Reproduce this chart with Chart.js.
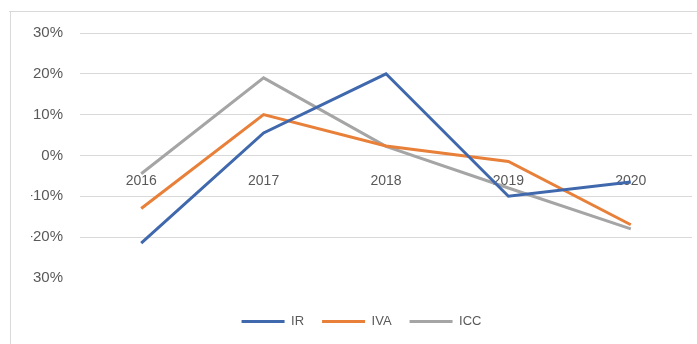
<!DOCTYPE html>
<html>
<head>
<meta charset="utf-8">
<script src="https://cdn.jsdelivr.net/npm/chart.js@4.4.1/dist/chart.umd.min.js"></script>
<style>
  html, body { margin: 0; padding: 0; background: #fff; }
  #wrap { width: 697px; height: 344px; position: relative; }
</style>
</head>
<body>
<div id="wrap"><canvas id="chart"></canvas></div>
<script>
// Años y variación anual de cada impuesto (%)
const years = ['2016', '2017', '2018', '2019', '2020'];
const irValues = [-21.5, 5.5, 20, -10, -6.5];
const ivaValues = [-13, 10, 2.3, -1.5, -17];
const iccValues = [-4.5, 19, 2.2, -8, -18];

// Marcas del eje vertical
const yTickValues = [-30, -20, -10, 0, 10, 20, 30];
const yTickLabels = ['30%', '-20%', '-10%', '0%', '10%', '20%', '30%'];

const GRID = '#d9d9d9';
const TEXT = '#595959';
const FONT = 'Liberation Sans, Arial, sans-serif';

// Marco del gráfico (borde superior e izquierdo)
const framePlugin = {
    id: 'frame',
    beforeDraw(chart) {
        const c = chart.ctx;
        c.save();
        c.strokeStyle = GRID;
        c.lineWidth = 1;
        c.beginPath();
        c.moveTo(9, 11.5);
        c.lineTo(chart.width, 11.5);
        c.moveTo(10.5, 11);
        c.lineTo(10.5, chart.height);
        c.stroke();
        c.restore();
    }
};

const ctx = document.getElementById('chart').getContext('2d');
new Chart(ctx, {
    type: 'line',
    data: {
        labels: years,
        datasets: [
            { label: 'IR', data: irValues, borderColor: '#4068ad', backgroundColor: '#4068ad' },
            { label: 'IVA', data: ivaValues, borderColor: '#e8803a', backgroundColor: '#e8803a' },
            { label: 'ICC', data: iccValues, borderColor: '#a5a5a5', backgroundColor: '#a5a5a5' }
        ]
    },
    options: {
        responsive: true,
        maintainAspectRatio: false,
        animation: false,
        datasets: {
            line: { borderWidth: 3, pointRadius: 0, tension: 0 }
        },
        layout: { padding: { left: 31, right: 5, top: 33, bottom: 6 } },
        plugins: {
            tooltip: { enabled: false },
            legend: {
                position: 'bottom',
                title: { display: true, text: '', font: { size: 11 }, padding: { top: 0, bottom: 6 } },
                labels: {
                    usePointStyle: true,
                    pointStyle: 'line',
                    pointStyleWidth: 43,
                    padding: 18,
                    color: TEXT,
                    font: { family: FONT, size: 13 }
                }
            }
        },
        scales: {
            x: {
                offset: true,
                position: { y: 0 },
                grid: { display: false, drawTicks: false, offset: true },
                border: { display: false },
                ticks: {
                    padding: 17,
                    color: TEXT,
                    font: { family: FONT, size: 14 }
                }
            },
            y: {
                min: -30,
                max: 30,
                afterFit(scale) { scale.width = 49; },
                afterBuildTicks(scale) {
                    scale.ticks = yTickValues.map(v => ({ value: v }));
                },
                grid: {
                    drawTicks: false,
                    color: c => (c.tick && c.tick.value === -30) ? 'rgba(0,0,0,0)' : GRID
                },
                border: { display: false },
                ticks: {
                    padding: 17,
                    color: TEXT,
                    font: { family: FONT, size: 15 },
                    callback: v => yTickLabels[yTickValues.indexOf(v)]
                }
            }
        }
    },
    plugins: [framePlugin]
});
</script>
</body>
</html>
